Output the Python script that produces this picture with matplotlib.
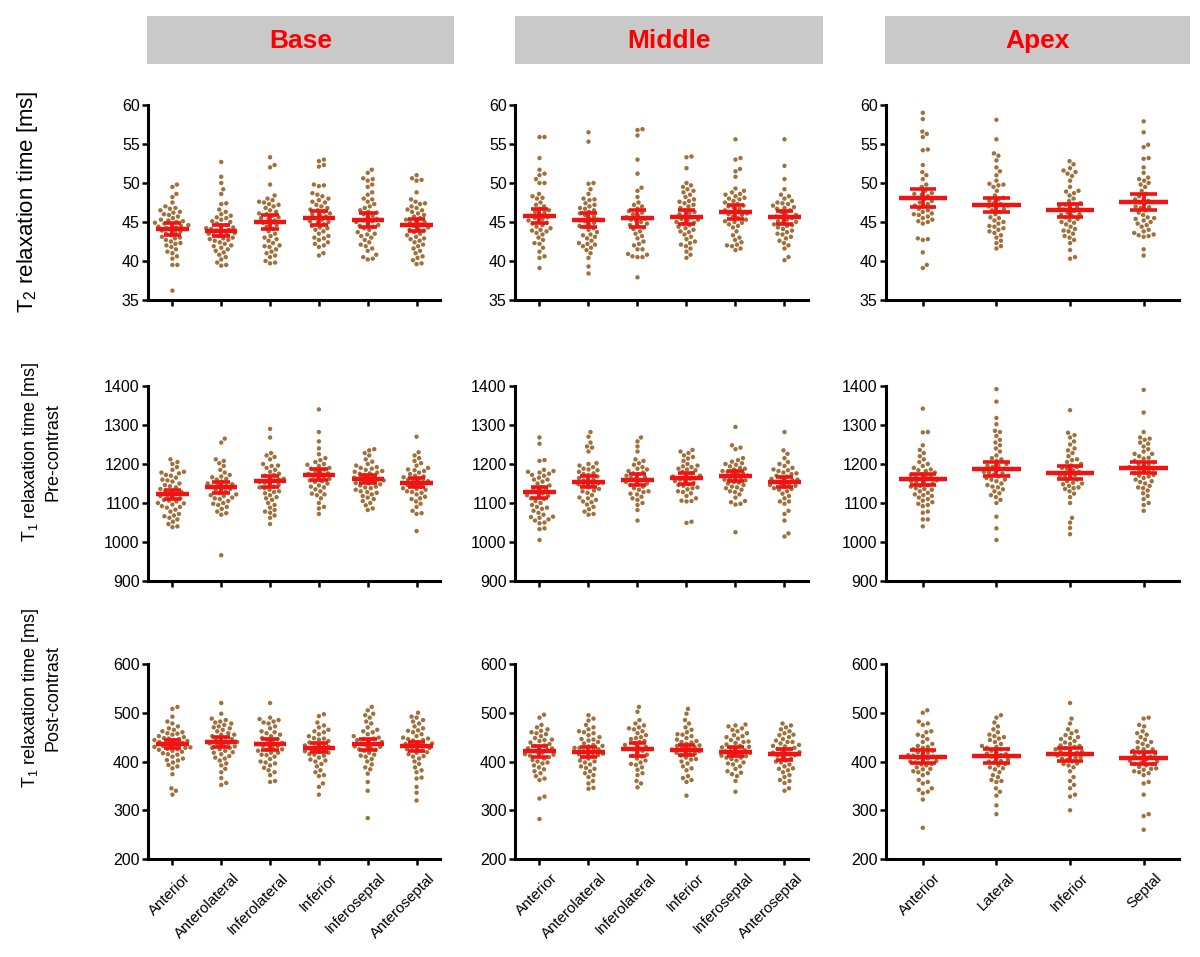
import numpy as np
import matplotlib
matplotlib.use('Agg')
import matplotlib.pyplot as plt
from matplotlib.patches import Rectangle
from matplotlib.transforms import ScaledTranslation

plt.rcParams['font.family'] = ['Liberation Sans', 'DejaVu Sans']
plt.rcParams['mathtext.fontset'] = 'custom'
plt.rcParams['mathtext.rm'] = 'Liberation Sans'

regions = ['Base', 'Middle', 'Apex']
segments_6 = ['Anterior', 'Anterolateral', 'Inferolateral', 'Inferior', 'Inferoseptal', 'Anteroseptal']
segments_4 = ['Anterior', 'Lateral', 'Inferior', 'Septal']

# ---- T2 (ms) ----
t2_base = [
    [49.8, 49.5, 48.6, 48.2, 47.5, 47.0, 46.8, 46.7, 46.5, 46.3, 46.2, 46.0, 45.9, 45.7, 45.5, 45.3, 45.2, 45.0, 44.9, 44.8, 44.6, 44.5, 44.4, 44.3, 44.2, 44.1, 44.0, 43.9, 43.8, 43.6, 43.5, 43.3, 43.1, 42.9, 42.7, 42.5, 42.2, 42.0, 41.8, 41.5, 41.2, 41.0, 40.6, 40.3, 39.5, 39.5, 36.2, 45.1, 44.7, 43.0, 42.3],
    [52.7, 50.8, 50.0, 49.2, 48.6, 47.4, 47.3, 46.6, 46.3, 46.0, 45.8, 45.5, 45.3, 45.1, 45.0, 44.8, 44.6, 44.5, 44.3, 44.2, 44.0, 43.9, 43.8, 43.6, 43.5, 43.3, 43.2, 43.0, 42.9, 42.7, 42.6, 42.4, 42.2, 42.0, 41.9, 41.7, 41.5, 41.3, 41.1, 40.8, 40.5, 40.2, 39.8, 39.5, 39.4, 44.1, 43.4, 42.8, 45.6],
    [53.3, 52.3, 52.0, 49.8, 48.4, 48.0, 47.8, 47.6, 47.5, 47.2, 47.0, 46.8, 46.5, 46.3, 46.0, 45.8, 45.6, 45.4, 45.2, 45.0, 44.8, 44.6, 44.4, 44.1, 43.8, 43.5, 43.2, 42.8, 42.6, 42.3, 42.0, 41.8, 41.5, 41.2, 41.0, 40.7, 40.5, 40.0, 39.8, 39.7, 47.3, 46.1, 45.5, 44.9, 43.0, 41.9],
    [53.0, 52.8, 52.3, 52.1, 49.8, 49.7, 49.6, 48.7, 48.3, 48.0, 47.8, 47.5, 47.2, 47.0, 46.8, 46.5, 46.3, 46.1, 45.9, 45.7, 45.5, 45.3, 45.1, 44.9, 44.7, 44.5, 44.2, 44.0, 43.8, 43.5, 43.2, 43.0, 42.7, 42.4, 42.2, 42.0, 41.8, 41.0, 40.7, 47.6, 46.6, 45.0, 44.3, 42.9, 48.5, 46.0],
    [51.7, 51.3, 50.6, 50.5, 50.3, 49.8, 49.5, 48.8, 48.5, 48.0, 47.6, 47.3, 47.0, 46.8, 46.5, 46.3, 46.0, 45.8, 45.6, 45.4, 45.2, 45.0, 44.8, 44.6, 44.4, 44.2, 44.0, 43.7, 43.5, 43.2, 43.0, 42.7, 42.4, 42.1, 41.9, 41.6, 41.3, 40.8, 40.5, 40.2, 40.3, 46.2, 44.5, 43.4, 47.9, 45.1],
    [51.0, 50.6, 50.4, 50.3, 48.8, 47.9, 47.6, 47.3, 47.0, 46.8, 46.5, 46.3, 46.1, 45.9, 45.7, 45.5, 45.3, 45.1, 44.9, 44.7, 44.5, 44.3, 44.1, 43.9, 43.7, 43.5, 43.3, 43.1, 42.9, 42.6, 42.4, 42.1, 41.9, 41.6, 41.3, 41.0, 40.6, 40.4, 40.1, 39.7, 39.6, 46.6, 45.0, 44.0, 42.8, 47.4],
]
t2_middle = [
    [55.9, 55.9, 53.2, 51.7, 51.2, 51.0, 50.5, 50.0, 50.0, 48.6, 48.3, 48.1, 48.0, 47.5, 47.2, 47.0, 46.7, 46.5, 46.3, 46.0, 45.8, 45.6, 45.4, 45.2, 45.0, 44.8, 44.6, 44.4, 44.2, 44.0, 43.8, 43.6, 43.4, 43.0, 42.7, 42.3, 42.2, 41.7, 41.2, 40.6, 40.4, 39.1, 46.2, 44.9, 43.9, 45.5],
    [56.5, 55.3, 50.0, 49.9, 49.2, 48.6, 48.0, 47.8, 47.4, 47.2, 47.0, 46.7, 46.5, 46.3, 46.1, 45.9, 45.7, 45.5, 45.3, 45.1, 44.9, 44.7, 44.5, 44.2, 44.0, 43.7, 43.4, 43.1, 42.9, 42.6, 42.3, 42.1, 41.9, 41.7, 41.4, 41.0, 40.4, 39.3, 38.4, 46.8, 45.2, 44.4, 43.3, 42.2, 47.9],
    [56.9, 56.8, 56.1, 53.0, 51.2, 49.4, 49.0, 48.2, 47.5, 47.0, 46.7, 46.4, 46.2, 46.0, 45.8, 45.6, 45.4, 45.2, 45.0, 44.8, 44.6, 44.3, 44.1, 43.8, 43.5, 43.2, 42.9, 42.5, 42.2, 42.0, 41.5, 41.5, 40.9, 40.8, 40.6, 40.5, 40.5, 37.9, 47.2, 45.3, 44.5],
    [53.4, 53.3, 51.9, 50.0, 49.7, 49.5, 49.2, 49.0, 48.8, 48.5, 48.2, 47.9, 47.6, 47.4, 47.2, 47.0, 46.8, 46.5, 46.2, 46.0, 45.8, 45.6, 45.4, 45.2, 45.0, 44.8, 44.6, 44.4, 44.2, 44.0, 43.7, 43.4, 43.1, 42.8, 42.5, 42.3, 42.1, 41.9, 41.6, 41.2, 40.8, 40.4, 46.3, 45.3, 43.8, 47.7, 44.9],
    [55.6, 53.2, 53.0, 51.8, 51.5, 50.8, 49.3, 49.0, 48.8, 48.6, 48.5, 48.3, 48.1, 47.9, 47.7, 47.5, 47.3, 47.1, 46.9, 46.7, 46.5, 46.3, 46.1, 45.9, 45.7, 45.5, 45.3, 45.1, 44.9, 44.7, 44.5, 44.3, 43.8, 43.3, 43.0, 42.7, 42.4, 42.1, 42.0, 41.9, 41.6, 41.4, 47.0, 46.0, 45.0, 48.0],
    [55.6, 52.2, 50.5, 49.2, 48.5, 48.3, 48.0, 47.7, 47.5, 47.3, 47.1, 46.9, 46.7, 46.5, 46.3, 46.1, 45.9, 45.7, 45.5, 45.3, 45.1, 44.9, 44.7, 44.5, 44.3, 44.1, 43.9, 43.7, 43.4, 43.1, 42.9, 42.6, 42.3, 42.0, 41.6, 40.5, 40.1, 46.8, 45.6, 44.6, 43.5, 47.4, 45.0],
]
t2_apex = [
    [59.0, 58.2, 56.6, 56.3, 55.9, 54.3, 54.2, 52.3, 51.4, 51.0, 50.5, 49.8, 49.5, 49.0, 48.7, 48.5, 48.3, 48.1, 47.9, 47.7, 47.5, 47.3, 47.1, 46.9, 46.7, 46.5, 46.3, 46.1, 45.9, 45.7, 45.5, 45.3, 45.0, 44.8, 42.9, 42.8, 42.7, 41.1, 39.5, 39.1, 48.6, 47.0, 46.0, 45.1],
    [58.1, 55.6, 53.8, 53.5, 52.9, 52.0, 51.5, 51.0, 50.3, 49.9, 49.8, 49.7, 49.5, 49.0, 48.4, 48.1, 47.9, 47.7, 47.5, 47.3, 47.1, 46.9, 46.7, 46.5, 46.3, 46.0, 45.6, 45.2, 45.0, 44.8, 44.5, 44.2, 44.0, 43.8, 43.6, 43.3, 43.0, 42.6, 42.3, 41.9, 41.6, 47.0, 45.5, 44.4],
    [52.8, 52.4, 51.9, 51.6, 51.4, 51.2, 50.9, 50.3, 49.5, 49.0, 48.7, 48.4, 48.0, 47.7, 47.4, 47.2, 47.0, 46.8, 46.6, 46.4, 46.2, 46.0, 45.8, 45.6, 45.4, 45.2, 45.0, 44.7, 44.4, 44.1, 43.8, 43.5, 43.2, 43.0, 42.7, 42.3, 41.4, 40.5, 40.3, 46.9, 45.9, 44.9, 43.9, 47.3, 48.9],
    [57.9, 56.5, 54.9, 54.6, 53.2, 53.1, 52.0, 51.3, 50.7, 50.5, 50.3, 50.0, 49.8, 49.5, 49.0, 48.6, 48.3, 48.0, 47.7, 47.5, 47.3, 47.0, 46.8, 46.5, 46.2, 45.9, 45.6, 45.4, 45.2, 45.0, 44.8, 44.6, 44.4, 44.0, 43.8, 43.6, 43.4, 43.3, 43.2, 43.1, 41.5, 40.7, 46.9, 45.5, 47.9],
]
t2_base_mean = [44.1, 43.9, 45.0, 45.5, 45.2, 44.6]
t2_base_ci = [0.8, 0.7, 0.9, 0.9, 0.9, 0.8]
t2_middle_mean = [45.8, 45.3, 45.5, 45.7, 46.3, 45.6]
t2_middle_ci = [0.9, 0.9, 1.1, 0.9, 0.9, 0.8]
t2_apex_mean = [48.1, 47.2, 46.5, 47.6]
t2_apex_ci = [1.15, 0.9, 0.8, 1.0]

# ---- T1 pre-contrast (ms) ----
pre_base = [
    [1212, 1205, 1200, 1192, 1185, 1180, 1176, 1170, 1165, 1160, 1155, 1150, 1146, 1140, 1136, 1132, 1128, 1124, 1120, 1116, 1112, 1108, 1104, 1100, 1096, 1092, 1088, 1083, 1078, 1072, 1066, 1062, 1058, 1052, 1046, 1040, 1038, 1178, 1158, 1143, 1118, 1106, 1090, 1068, 1172, 1131, 1099],
    [1265, 1255, 1212, 1208, 1202, 1195, 1185, 1178, 1172, 1166, 1160, 1155, 1150, 1146, 1142, 1138, 1134, 1130, 1126, 1122, 1118, 1114, 1110, 1105, 1100, 1095, 1090, 1085, 1078, 1074, 1070, 966, 1162, 1148, 1136, 1120, 1098, 1112, 1168, 1144],
    [1290, 1268, 1228, 1222, 1218, 1212, 1200, 1195, 1190, 1185, 1180, 1175, 1170, 1166, 1162, 1158, 1154, 1150, 1146, 1142, 1138, 1134, 1130, 1125, 1120, 1115, 1108, 1100, 1095, 1088, 1082, 1075, 1068, 1062, 1046, 1172, 1160, 1152, 1140, 1128, 1196, 1112, 1078],
    [1340, 1282, 1258, 1240, 1225, 1215, 1210, 1205, 1200, 1195, 1190, 1186, 1182, 1178, 1174, 1170, 1166, 1162, 1158, 1154, 1150, 1145, 1140, 1135, 1130, 1124, 1120, 1112, 1100, 1090, 1086, 1072, 1188, 1176, 1168, 1156, 1142, 1198, 1122],
    [1238, 1235, 1228, 1222, 1212, 1206, 1200, 1196, 1192, 1188, 1185, 1182, 1178, 1175, 1172, 1168, 1165, 1162, 1160, 1157, 1154, 1151, 1148, 1145, 1142, 1138, 1134, 1130, 1126, 1122, 1118, 1114, 1110, 1105, 1100, 1094, 1086, 1082, 1190, 1176, 1163, 1150, 1140, 1128, 1180, 1158],
    [1270, 1230, 1222, 1215, 1208, 1202, 1196, 1190, 1186, 1182, 1178, 1174, 1170, 1166, 1162, 1158, 1154, 1150, 1146, 1142, 1138, 1134, 1130, 1126, 1122, 1116, 1110, 1104, 1098, 1090, 1080, 1074, 1072, 1028, 1184, 1168, 1156, 1144, 1128, 1112, 1160, 1136],
]
pre_middle = [
    [1268, 1252, 1210, 1208, 1185, 1182, 1178, 1175, 1170, 1165, 1160, 1155, 1150, 1145, 1140, 1135, 1130, 1125, 1120, 1115, 1110, 1105, 1100, 1095, 1090, 1085, 1080, 1075, 1070, 1065, 1062, 1058, 1055, 1050, 1048, 1035, 1033, 1005, 1180, 1160, 1138, 1112, 1088, 1064, 1172, 1118],
    [1282, 1270, 1255, 1245, 1242, 1232, 1202, 1200, 1196, 1192, 1188, 1184, 1180, 1176, 1172, 1168, 1164, 1160, 1156, 1152, 1148, 1144, 1140, 1136, 1132, 1126, 1120, 1114, 1108, 1102, 1096, 1090, 1084, 1078, 1072, 1070, 1174, 1158, 1146, 1130, 1112, 1186, 1150, 1104],
    [1268, 1258, 1245, 1232, 1212, 1208, 1202, 1198, 1192, 1186, 1182, 1178, 1174, 1170, 1166, 1162, 1158, 1154, 1150, 1146, 1142, 1138, 1134, 1128, 1122, 1116, 1108, 1100, 1095, 1082, 1055, 1176, 1164, 1148, 1130, 1112, 1188, 1124],
    [1236, 1232, 1228, 1222, 1218, 1214, 1208, 1200, 1196, 1192, 1188, 1184, 1180, 1176, 1172, 1168, 1164, 1160, 1156, 1152, 1148, 1144, 1140, 1135, 1130, 1125, 1118, 1112, 1106, 1105, 1104, 1052, 1049, 1186, 1170, 1158, 1146, 1128, 1194, 1162, 1138],
    [1295, 1248, 1242, 1238, 1215, 1210, 1206, 1202, 1198, 1194, 1190, 1186, 1182, 1178, 1174, 1170, 1166, 1162, 1158, 1154, 1150, 1146, 1142, 1138, 1134, 1128, 1122, 1114, 1105, 1102, 1098, 1096, 1025, 1188, 1176, 1164, 1152, 1140, 1200, 1180, 1160, 1130],
    [1282, 1235, 1226, 1215, 1205, 1200, 1195, 1190, 1186, 1182, 1178, 1174, 1170, 1166, 1162, 1158, 1154, 1150, 1146, 1142, 1138, 1134, 1130, 1124, 1118, 1112, 1104, 1098, 1080, 1072, 1055, 1022, 1014, 1184, 1168, 1156, 1144, 1136, 1176, 1160, 1148, 1104],
]
pre_apex = [
    [1342, 1282, 1281, 1248, 1236, 1228, 1220, 1212, 1205, 1200, 1195, 1190, 1186, 1182, 1178, 1174, 1170, 1166, 1162, 1158, 1154, 1150, 1146, 1142, 1138, 1134, 1130, 1126, 1122, 1118, 1114, 1110, 1106, 1102, 1098, 1095, 1092, 1078, 1075, 1058, 1058, 1040, 1184, 1170, 1152, 1136, 1120, 1172, 1156, 1144],
    [1392, 1360, 1318, 1302, 1285, 1282, 1272, 1262, 1255, 1248, 1240, 1232, 1222, 1215, 1208, 1200, 1196, 1192, 1188, 1184, 1180, 1176, 1172, 1168, 1164, 1160, 1156, 1150, 1146, 1140, 1135, 1130, 1125, 1120, 1115, 1108, 1100, 1065, 1035, 1005, 1212, 1196, 1178, 1160, 1142, 1170],
    [1338, 1280, 1274, 1268, 1258, 1250, 1240, 1235, 1228, 1220, 1212, 1205, 1200, 1196, 1192, 1188, 1184, 1180, 1176, 1172, 1168, 1164, 1160, 1156, 1152, 1148, 1144, 1140, 1136, 1130, 1124, 1115, 1100, 1062, 1050, 1036, 1020, 1190, 1170, 1150, 1138, 1210],
    [1390, 1332, 1282, 1268, 1265, 1262, 1255, 1252, 1245, 1238, 1232, 1226, 1220, 1214, 1208, 1204, 1200, 1196, 1192, 1188, 1184, 1180, 1176, 1172, 1168, 1164, 1160, 1156, 1150, 1144, 1138, 1132, 1125, 1118, 1110, 1100, 1095, 1080, 1216, 1200, 1186, 1170, 1154, 1140, 1226, 1190],
]
pre_base_mean = [1122, 1140, 1156, 1173, 1162, 1152]
pre_base_ci = [12, 14, 14, 13, 10, 12]
pre_middle_mean = [1127, 1155, 1160, 1163, 1169, 1154]
pre_middle_ci = [15, 13, 14, 13, 12, 13]
pre_apex_mean = [1161, 1188, 1178, 1190]
pre_apex_ci = [14, 18, 16, 14]

# ---- T1 post-contrast (ms) ----
post_base = [
    [512, 508, 492, 482, 478, 472, 468, 465, 462, 460, 457, 455, 452, 450, 448, 446, 444, 442, 440, 438, 436, 434, 432, 430, 428, 426, 424, 422, 420, 417, 414, 410, 406, 402, 398, 393, 390, 386, 374, 345, 340, 332, 458, 447, 437, 425, 415, 403, 444, 429],
    [520, 498, 488, 485, 482, 480, 478, 475, 472, 468, 465, 462, 458, 455, 452, 449, 446, 443, 440, 437, 434, 431, 428, 425, 422, 419, 415, 411, 406, 402, 396, 392, 385, 378, 366, 356, 352, 470, 455, 445, 432, 418, 408, 438, 428],
    [520, 490, 487, 485, 482, 478, 472, 468, 462, 458, 455, 452, 448, 445, 442, 438, 435, 432, 428, 425, 422, 418, 414, 410, 405, 400, 396, 392, 387, 382, 378, 372, 360, 358, 480, 460, 446, 436, 424, 413, 398, 432, 418],
    [497, 493, 480, 474, 470, 465, 460, 456, 452, 448, 445, 442, 439, 436, 433, 430, 427, 424, 421, 418, 415, 412, 408, 404, 400, 395, 390, 382, 378, 372, 370, 355, 348, 332, 462, 447, 437, 426, 414, 402, 432, 420],
    [512, 505, 498, 495, 490, 482, 478, 470, 465, 460, 456, 452, 449, 446, 443, 440, 437, 434, 431, 428, 425, 422, 418, 414, 410, 405, 400, 394, 388, 384, 375, 358, 340, 284, 462, 447, 436, 424, 412, 444, 430],
    [500, 492, 490, 485, 482, 478, 472, 468, 464, 460, 456, 452, 449, 446, 443, 440, 437, 434, 431, 428, 425, 422, 419, 415, 411, 406, 400, 395, 388, 382, 378, 367, 365, 348, 336, 320, 463, 447, 436, 424, 410, 444, 430, 418],
]
post_middle = [
    [496, 490, 475, 470, 466, 463, 460, 456, 452, 448, 445, 442, 439, 436, 433, 430, 427, 424, 421, 418, 415, 412, 409, 406, 403, 400, 396, 392, 388, 384, 380, 376, 370, 365, 362, 328, 324, 282, 458, 444, 432, 420, 410, 398, 427, 414],
    [495, 488, 484, 475, 470, 466, 462, 458, 454, 450, 446, 443, 440, 437, 434, 431, 428, 425, 422, 419, 416, 413, 410, 406, 402, 398, 394, 390, 385, 380, 376, 372, 368, 360, 355, 346, 344, 460, 445, 432, 421, 411, 400, 428, 415, 387],
    [512, 502, 485, 478, 474, 470, 466, 462, 458, 454, 450, 446, 442, 438, 434, 430, 426, 422, 418, 414, 410, 406, 402, 398, 393, 388, 383, 376, 372, 360, 355, 347, 468, 448, 430, 412, 395, 425, 440],
    [508, 498, 485, 478, 470, 465, 460, 456, 452, 448, 445, 442, 439, 436, 433, 430, 427, 424, 421, 418, 415, 412, 408, 404, 400, 396, 390, 386, 382, 370, 366, 362, 358, 330, 455, 440, 428, 416, 405, 432, 420],
    [476, 474, 472, 468, 465, 462, 458, 454, 450, 447, 444, 441, 438, 435, 432, 429, 426, 423, 420, 417, 414, 411, 408, 405, 402, 398, 394, 390, 385, 380, 377, 374, 370, 360, 338, 452, 440, 428, 418, 408, 396, 430, 421, 412],
    [478, 474, 470, 466, 462, 458, 454, 450, 446, 443, 440, 437, 434, 431, 428, 425, 422, 419, 416, 413, 410, 406, 402, 398, 394, 390, 386, 382, 378, 372, 368, 362, 360, 356, 345, 340, 455, 440, 426, 412, 400, 385, 432, 418],
]
post_apex = [
    [505, 500, 482, 478, 475, 462, 460, 455, 452, 446, 440, 436, 432, 428, 425, 422, 419, 416, 413, 410, 407, 404, 401, 398, 395, 392, 388, 384, 380, 378, 376, 372, 362, 358, 355, 345, 342, 338, 335, 322, 264, 430, 418, 406, 394, 412, 400, 385],
    [495, 490, 480, 472, 466, 460, 455, 450, 447, 444, 440, 436, 432, 428, 425, 422, 419, 416, 413, 410, 407, 404, 401, 398, 395, 392, 388, 384, 378, 372, 368, 362, 360, 358, 345, 338, 330, 310, 292, 452, 430, 415, 400, 386, 425],
    [520, 488, 478, 466, 462, 458, 454, 450, 446, 442, 439, 436, 433, 430, 427, 424, 421, 418, 415, 412, 409, 406, 403, 400, 396, 392, 388, 380, 368, 360, 352, 345, 332, 328, 300, 448, 432, 420, 408, 395, 425, 412],
    [490, 488, 475, 472, 462, 458, 455, 450, 445, 440, 436, 432, 428, 425, 422, 419, 416, 413, 410, 407, 404, 401, 398, 395, 392, 389, 386, 383, 380, 378, 376, 372, 358, 355, 332, 292, 288, 260, 440, 425, 412, 400, 385, 418, 395],
]
post_base_mean = [436, 440, 435, 428, 435, 431]
post_base_ci = [9, 9.5, 10.5, 9, 11, 10]
post_middle_mean = [421, 420, 425, 423, 420, 415]
post_middle_ci = [11, 10, 13, 10.5, 9, 11]
post_apex_mean = [410, 411, 415, 407]
post_apex_ci = [14, 14, 13, 13]

row_data = [
    [(t2_base, t2_base_mean, t2_base_ci), (t2_middle, t2_middle_mean, t2_middle_ci), (t2_apex, t2_apex_mean, t2_apex_ci)],
    [(pre_base, pre_base_mean, pre_base_ci), (pre_middle, pre_middle_mean, pre_middle_ci), (pre_apex, pre_apex_mean, pre_apex_ci)],
    [(post_base, post_base_mean, post_base_ci), (post_middle, post_middle_mean, post_middle_ci), (post_apex, post_apex_mean, post_apex_ci)],
]
row_ylim = [(35, 60, 5), (900, 1400, 100), (200, 600, 100)]
row_labels = [
    r'T$_\mathregular{2}$ relaxation time [ms]',
    'T$_\\mathregular{1}$ relaxation time [ms]\nPre-contrast',
    'T$_\\mathregular{1}$ relaxation time [ms]\nPost-contrast',
]

W, H = 1200, 957
DOT = '#a0703c'
RED = '#f21212'

fig = plt.figure(figsize=(W / 100, H / 100), dpi=100)

col_px = [(148, 440), (515, 808), (886, 1179)]
row_px = [(105, 300), (386, 581), (664, 859)]


def swarm(ax, xpos, values, d=5.0):
    # simple beeswarm in pixel space: each point goes to the closest free slot
    vals = np.asarray(values, dtype=float)
    pts = ax.transData.transform(np.column_stack([np.full(len(vals), xpos), vals]))
    placed = []
    out = np.zeros_like(pts)
    for i in np.argsort(vals):
        px, py = pts[i]
        ok = px
        for k in range(0, 200):
            found = False
            for cand in ([px] if k == 0 else [px + k * 0.5, px - k * 0.5]):
                if all((cand - qx) ** 2 + (py - qy) ** 2 >= d * d for qx, qy in placed):
                    ok, found = cand, True
                    break
            if found:
                break
        placed.append((ok, py))
        out[i] = (ok, py)
    return ax.transData.inverted().transform(out)[:, 0], vals


label_shift = ScaledTranslation(11 / 100, -12 / 100, fig.dpi_scale_trans)

for r in range(3):
    y0, y1, ystep = row_ylim[r]
    for c in range(3):
        cats = segments_4 if c == 2 else segments_6
        data, means, cis = row_data[r][c]
        xa, xb = col_px[c]
        ya, yb = row_px[r]
        ax = fig.add_axes([xa / W, 1 - yb / H, (xb - xa) / W, (yb - ya) / H])
        n = len(cats)
        ax.set_xlim(-0.5, n - 0.52)
        ax.set_ylim(y0, y1)
        for i in range(n):
            xs, ys = swarm(ax, i, data[i])
            ax.scatter(xs, ys, s=10, color=DOT, edgecolors='none', zorder=3, clip_on=False)
            m, ci = means[i], cis[i]
            ax.hlines(m, i - 0.33, i + 0.33, color=RED, lw=3.2, zorder=5)
            ax.hlines([m - ci, m + ci], i - 0.18, i + 0.18, color=RED, lw=2.6, zorder=5)
            ax.vlines(i, m - ci, m + ci, color=RED, lw=2.6, zorder=5)
        ax.set_yticks(np.arange(y0, y1 + ystep / 2, ystep))
        ax.set_xticks(range(n))
        ax.set_xticklabels([])
        if r == 2:
            for i, cat in enumerate(cats):
                ax.text(i, 0, cat, transform=ax.get_xaxis_transform() + label_shift,
                        rotation=45, ha='right', va='top', rotation_mode='anchor', fontsize=10.8)
        for s in ['top', 'right']:
            ax.spines[s].set_visible(False)
        for s in ['left', 'bottom']:
            ax.spines[s].set_linewidth(2.2)
        ax.tick_params(axis='both', direction='out', length=4.5, width=1.8, labelsize=11.5, pad=1.5)
        ax.patch.set_alpha(0)

# region headers
box_px = [(147, 454), (515, 823), (885, 1190)]
for name, (xa, xb) in zip(regions, box_px):
    fig.patches.append(Rectangle((xa / W, 1 - 64 / H), (xb - xa) / W, 48 / H,
                                 transform=fig.transFigure, facecolor='#c9c9c9', edgecolor='none'))
    fig.text((xa + xb) / 2 / W, 1 - 41 / H, name, color='#ff0000', fontsize=19,
             fontweight='bold', ha='center', va='center')

# row labels
label_pos = [(28, 202, 16), (41, 452, 13), (41, 698, 13)]
for (lx, ly, fs), txt in zip(label_pos, row_labels):
    fig.text(lx / W, 1 - ly / H, txt, rotation=90, ha='center', va='center',
             multialignment='center', fontsize=fs, linespacing=1.3)

fig.savefig('out.png', dpi=100, facecolor='white')
